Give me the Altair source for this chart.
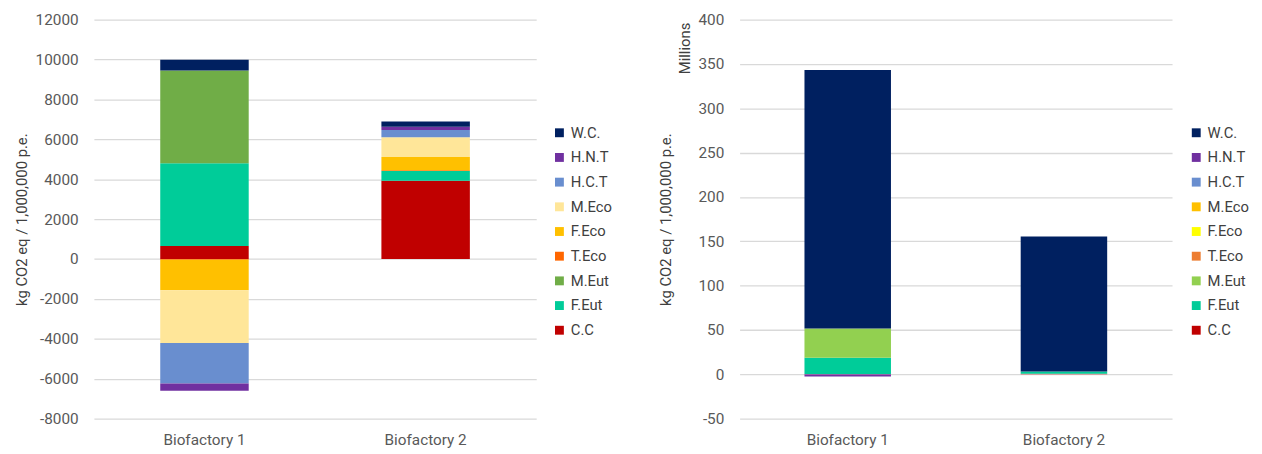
import altair as alt
import pandas as pd

FONT = "Roboto"
categories = ["Biofactory 1", "Biofactory 2"]
impacts = ["C.C", "F.Eut", "M.Eut", "T.Eco", "F.Eco", "M.Eco", "H.C.T", "H.N.T", "W.C."]
legend_order = ["W.C.", "H.N.T", "H.C.T", "M.Eco", "F.Eco", "T.Eco", "M.Eut", "F.Eut", "C.C"]

# left chart values (kg CO2 eq / 1,000,000 p.e.), in order of `impacts`
left_bf1 = [650, 4150, 4660, -40, -1530, -2640, -2030, -360, 530]
left_bf2 = [3920, 495, 0, 40, 660, 990, 365, 165, 265]
left_colors = ["#002060", "#7030A0", "#698ECF", "#FFE699", "#FFC000", "#FF6600", "#70AD47", "#00CC99", "#C00000"]

# right chart values (millions)
right_bf1 = [0.3, 18.3, 33.0, 0.0, 0.0, 0.0, -0.3, -2.2, 291.7]
right_bf2 = [0.5, 2.5, 0.0, 0.0, 0.0, 0.0, 0.0, 0.0, 152.5]
right_colors = ["#002060", "#7030A0", "#698ECF", "#FFC000", "#FFFF00", "#ED7D31", "#92D050", "#00CC99", "#C00000"]

left_ticks = list(range(-8000, 12001, 2000))
right_ticks = list(range(-50, 401, 50))


def frame(v1, v2):
    rows = []
    for cat, vals in zip(categories, [v1, v2]):
        for i, (imp, v) in enumerate(zip(impacts, vals)):
            rows.append({"cat": cat, "impact": imp, "value": v, "ord": i})
    return pd.DataFrame(rows)


def panel(df, colors, domain, ticks, width, legend_x, extra_title_x):
    x = alt.X("cat:N", sort=categories, title=None,
              scale=alt.Scale(paddingInner=0.6, paddingOuter=0.3),
              axis=alt.Axis(labelAngle=0, domain=False, ticks=False, labelPadding=14,
                            labelFontSize=15.5, labelFont=FONT, labelColor="#595959"))
    y = alt.Y("value:Q", stack="zero", title="kg CO2 eq / 1,000,000 p.e.",
              scale=alt.Scale(domain=domain, nice=False, zero=False),
              axis=alt.Axis(values=ticks, labelExpr="'' + datum.value", domain=False, ticks=False,
                            labelPadding=16,
                            labelFontSize=15.5, labelFont=FONT, labelColor="#595959",
                            gridColor="#D9D9D9", gridWidth=1.3,
                            titleFont=FONT, titleFontSize=15, titleFontWeight="normal",
                            titleColor="#404040", titleX=extra_title_x))
    color = alt.Color("impact:N", title=None,
                      scale=alt.Scale(domain=legend_order, range=colors),
                      legend=alt.Legend(orient="none", legendX=legend_x, legendY=107,
                                        symbolType="square", symbolSize=81, symbolStrokeWidth=0,
                                        labelFont=FONT, labelFontSize=15, labelColor="#404040",
                                        labelOffset=4, rowPadding=9))
    return alt.Chart(df).mark_bar().encode(
        x=x, y=y, color=color, order=alt.Order("ord:Q", sort="ascending")
    ).properties(width=width, height=404)


left = panel(frame(left_bf1, left_bf2), left_colors, [-8000, 12000], left_ticks, 448, 464, -65)

right_bars = panel(frame(right_bf1, right_bf2), right_colors, [-50, 400], right_ticks, 438, 455, -67)
millions = alt.Chart(pd.DataFrame({"t": ["Millions"]})).mark_text(
    angle=270, align="right", baseline="middle", font=FONT, fontSize=15, color="#404040"
).encode(text="t:N", x=alt.value(-55), y=alt.value(3))
right = alt.layer(right_bars, millions)

chart = alt.hconcat(left, right, spacing=47).resolve_scale(color="independent").configure_view(
    stroke=None
).properties(padding={"left": 7, "top": 2, "right": 5, "bottom": 5})

chart.save("out.html", embed_options={"renderer": "svg", "actions": False})
